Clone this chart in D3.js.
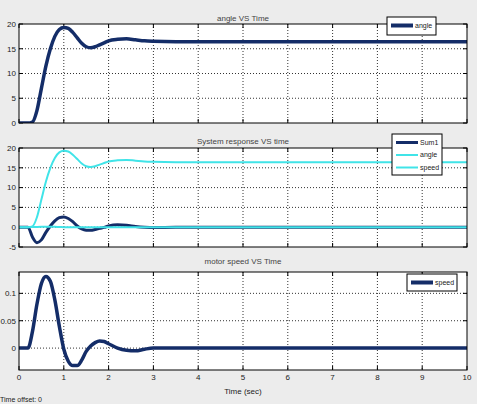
<!DOCTYPE html>
<html>
<head>
<meta charset="utf-8">
<script src="https://d3js.org/d3.v7.min.js"></script>
<style>
  body { margin: 0; background: #ececec; }
  svg { display: block; font-family: "Liberation Sans", Arial, sans-serif; }
</style>
</head>
<body>
<div id="chart"></div>
<script>
// sample times (sec)
const time = [0, 0.2, 0.3, 0.4, 0.5, 0.6, 0.7, 0.8, 0.9, 1.0, 1.1, 1.2, 1.3, 1.4, 1.5, 1.6, 1.7, 1.8, 1.9, 2.0, 2.2, 2.4, 2.6, 2.8, 3.0, 3.5, 4, 5, 10];
const angle = [0, 0, 0.2, 2.5, 7, 11.5, 15, 17.5, 18.9, 19.3, 19.1, 18.3, 17.2, 16.1, 15.4, 15.2, 15.4, 15.8, 16.2, 16.6, 16.9, 17.0, 16.8, 16.6, 16.5, 16.4, 16.4, 16.4, 16.4];
const sum1 = [0, 0, -2.5, -3.9, -3.2, -1.3, 0.3, 1.6, 2.4, 2.6, 2.2, 1.4, 0.3, -0.4, -0.75, -0.8, -0.6, -0.3, -0.05, 0.3, 0.6, 0.5, 0.2, 0, -0.1, 0, 0, 0, 0];
const speed = [0, 0, 0.03, 0.08, 0.118, 0.131, 0.122, 0.088, 0.04, -0.002, -0.024, -0.032, -0.032, -0.022, -0.006, 0.004, 0.01, 0.013, 0.012, 0.008, 0, -0.004, -0.005, -0.002, 0, 0, 0, 0, 0];

const xTicks = [0, 1, 2, 3, 4, 5, 6, 7, 8, 9, 10];
const angleTicks = [0, 5, 10, 15, 20];
const sysTicks = [-5, 0, 5, 10, 15, 20];
const speedTicks = [0, 0.05, 0.1];

const dark = "#142d68", cyan = "#40e4e8";

const W = 477, H = 404;
const svg = d3.select("#chart").append("svg").attr("width", W).attr("height", H);

const x = d3.scaleLinear().domain([0, 10]).range([19, 467]);

const panels = [
  { top: 24, bottom: 123, domain: [0, 20], ticks: angleTicks, fmt: d => d, title: "angle VS Time", titleY: 18,
    series: [{ v: angle, c: dark, w: 3.5 }],
    legend: { x: 387, y: 17, w: 49, h: 18, items: [{ n: "angle", c: dark, w: 4 }] } },
  { top: 148, bottom: 247, domain: [-5, 20], ticks: sysTicks, fmt: d => d, title: "System response VS time", titleY: 141,
    series: [{ v: sum1, c: dark, w: 3 }, { v: speed, c: cyan, w: 2 }, { v: angle, c: cyan, w: 2 }],
    legend: { x: 392, y: 134, w: 50, h: 41, items: [{ n: "Sum1", c: dark, w: 3 }, { n: "angle", c: cyan, w: 2 }, { n: "speed", c: cyan, w: 2 }] } },
  { top: 272, bottom: 370, domain: [-0.04, 0.139], ticks: speedTicks, fmt: d => d === 0 ? "0" : d3.format(".2~f")(d), title: "motor speed VS Time", titleY: 261,
    series: [{ v: speed, c: dark, w: 3.5 }],
    legend: { x: 407, y: 274, w: 50, h: 17, items: [{ n: "speed", c: dark, w: 4 }] }, xLabels: true }
];

panels.forEach(p => {
  const y = d3.scaleLinear().domain(p.domain).range([p.bottom, p.top]);
  const g = svg.append("g");

  g.append("rect").attr("x", x(0)).attr("y", p.top)
    .attr("width", x(10) - x(0)).attr("height", p.bottom - p.top)
    .attr("fill", "#fff");

  // dotted grid
  g.selectAll(".gx").data(xTicks.slice(1, -1)).join("line")
    .attr("x1", d => x(d)).attr("x2", d => x(d))
    .attr("y1", p.top).attr("y2", p.bottom)
    .attr("stroke", "#333").attr("stroke-width", 1).attr("stroke-dasharray", "1,2");
  g.selectAll(".gy").data(p.ticks.filter(t => y(t) > p.top + 1 && y(t) < p.bottom - 1)).join("line")
    .attr("x1", x(0)).attr("x2", x(10))
    .attr("y1", d => y(d)).attr("y2", d => y(d))
    .attr("stroke", "#333").attr("stroke-width", 1).attr("stroke-dasharray", "1,2");

  // inner ticks
  const tickLen = 4;
  xTicks.forEach(t => {
    g.append("line").attr("x1", x(t)).attr("x2", x(t)).attr("y1", p.bottom).attr("y2", p.bottom - tickLen).attr("stroke", "#000");
    g.append("line").attr("x1", x(t)).attr("x2", x(t)).attr("y1", p.top).attr("y2", p.top + tickLen).attr("stroke", "#000");
  });
  p.ticks.forEach(t => {
    g.append("line").attr("x1", x(0)).attr("x2", x(0) + tickLen).attr("y1", y(t)).attr("y2", y(t)).attr("stroke", "#000");
    g.append("line").attr("x1", x(10)).attr("x2", x(10) - tickLen).attr("y1", y(t)).attr("y2", y(t)).attr("stroke", "#000");
  });

  // y tick labels
  g.selectAll(".yl").data(p.ticks).join("text")
    .attr("x", x(0) - 3).attr("y", d => y(d)).attr("dy", "0.35em")
    .attr("text-anchor", "end").attr("font-size", 8).attr("fill", "#222")
    .text(p.fmt);

  // series
  const clipId = "clip" + p.top;
  svg.append("clipPath").attr("id", clipId).append("rect")
    .attr("x", x(0)).attr("y", p.top).attr("width", x(10) - x(0)).attr("height", p.bottom - p.top);
  p.series.forEach(s => {
    const line = d3.line().x((d, i) => x(time[i])).y(d => y(d)).curve(d3.curveMonotoneX);
    g.append("path").datum(s.v).attr("d", line)
      .attr("fill", "none").attr("stroke", s.c).attr("stroke-width", s.w)
      .attr("clip-path", `url(#${clipId})`);
  });

  // frame
  g.append("rect").attr("x", x(0)).attr("y", p.top)
    .attr("width", x(10) - x(0)).attr("height", p.bottom - p.top)
    .attr("fill", "none").attr("stroke", "#000").attr("stroke-width", 1);

  // title
  g.append("text").attr("x", 243).attr("y", p.titleY).attr("dy", "0.35em")
    .attr("text-anchor", "middle").attr("font-size", 8).attr("fill", "#444")
    .text(p.title);

  // legend
  const L = p.legend;
  const lg = g.append("g");
  lg.append("rect").attr("x", L.x).attr("y", L.y).attr("width", L.w).attr("height", L.h)
    .attr("fill", "#fff").attr("stroke", "#000");
  L.items.forEach((it, i) => {
    const ly = L.y + 8.5 + i * 12.5;
    lg.append("line").attr("x1", L.x + 4).attr("x2", L.x + 26).attr("y1", ly).attr("y2", ly)
      .attr("stroke", it.c).attr("stroke-width", it.w);
    lg.append("text").attr("x", L.x + 28).attr("y", ly).attr("dy", "0.35em")
      .attr("font-size", 7).attr("fill", "#222").text(it.n);
  });

  if (p.xLabels) {
    g.selectAll(".xl").data(xTicks).join("text")
      .attr("x", d => x(d)).attr("y", p.bottom + 7).attr("dy", "0.35em")
      .attr("text-anchor", "middle").attr("font-size", 8).attr("fill", "#222")
      .text(d => d);
  }
});

svg.append("text").attr("x", 243).attr("y", 391).attr("dy", "0.35em")
  .attr("text-anchor", "middle").attr("font-size", 8).attr("fill", "#222").text("Time (sec)");
svg.append("text").attr("x", 0).attr("y", 400).attr("dy", "0.35em")
  .attr("font-size", 7).attr("fill", "#222").text("Time offset:  0");
</script>
</body>
</html>
